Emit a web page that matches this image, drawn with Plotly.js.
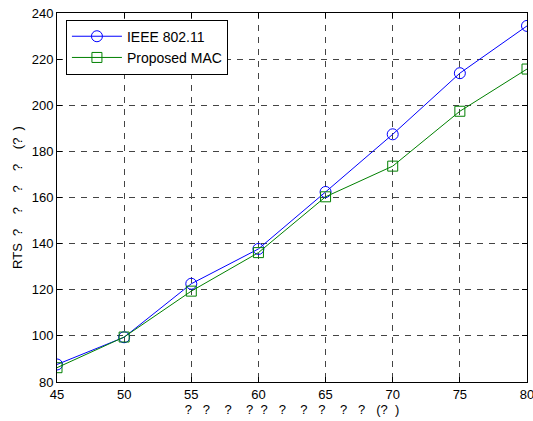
<!DOCTYPE html>
<html>
<head>
<meta charset="utf-8">
<script src="https://cdn.plot.ly/plotly-3.0.1.min.js"></script>
<style>html,body{margin:0;padding:0;background:#fff;}</style>
</head>
<body>
<div id="chart" style="width:533px;height:421px;"></div>
<script>
const xValues = [45, 50, 55, 60, 65, 70, 75, 80];
const ieeeValues = [87.6, 99.4, 122.6, 137.7, 162.4, 187.4, 213.9, 234.4];
const proposedValues = [86.2, 99.5, 119.4, 136.1, 160.3, 173.6, 197.4, 215.7];
const seriesNames = ["IEEE 802.11", "Proposed MAC"];
const xTicks = [45, 50, 55, 60, 65, 70, 75, 80];
const yTicks = [80, 100, 120, 140, 160, 180, 200, 220, 240];
const S = "\u00a0";
const xGaps = [3, 4, 4, 2, 3, 4, 3, 4, 3];
let xTitle = "?";
xGaps.forEach(g => { xTitle += S.repeat(g) + "?"; });
xTitle += S.repeat(3) + "(?" + S.repeat(2) + ")";
const yTitle = "RTS" + S.repeat(2) + "?" + S.repeat(4) + "?" + S.repeat(4) + "?" + S.repeat(4) + "?" + S.repeat(4) + "(?" + S.repeat(2) + ")";

const traces = [
  {x: xValues, y: ieeeValues, name: seriesNames[0], type: 'scatter', mode: 'lines+markers',
   line: {color: '#0000ff', width: 1},
   marker: {symbol: 'circle-open', size: 11, color: '#0000ff', line: {width: 1}}},
  {x: xValues, y: proposedValues, name: seriesNames[1], type: 'scatter', mode: 'lines+markers',
   line: {color: '#008000', width: 1},
   marker: {symbol: 'square-open', size: 10, color: '#008000', line: {width: 1}}}
];

const axisCommon = {
  showline: true, linecolor: '#000', linewidth: 1, mirror: 'allticks',
  ticks: 'inside', ticklen: 5, tickcolor: '#000', tickwidth: 1,
  showgrid: true, gridcolor: '#444', griddash: '6px,6px', gridwidth: 1,
  zeroline: false, ticklabeloverflow: 'allow',
  tickfont: {family: 'Liberation Sans, Arial, sans-serif', size: 13, color: '#000'}
};

const layout = {
  width: 533, height: 421,
  margin: {l: 57, r: 6, t: 13, b: 39},
  paper_bgcolor: '#fff', plot_bgcolor: '#fff',
  font: {family: 'Liberation Sans, Arial, sans-serif', size: 13, color: '#000'},
  showlegend: true,
  legend: {x: 0.019, y: 0.982, xanchor: 'left', yanchor: 'top', bgcolor: '#fff',
    bordercolor: '#000', borderwidth: 1, font: {size: 14}, tracegroupgap: 0, itemwidth: 50},
  xaxis: Object.assign({}, axisCommon, {range: [45, 80], tickvals: xTicks,
    title: {text: xTitle, standoff: 4, font: {size: 13}}, automargin: false}),
  yaxis: Object.assign({}, axisCommon, {range: [80, 240], tickvals: yTicks,
    title: {text: yTitle, standoff: 6, font: {size: 13}}, automargin: false})
};

Plotly.newPlot('chart', traces, layout, {displayModeBar: false, staticPlot: true});
</script>
</body>
</html>
